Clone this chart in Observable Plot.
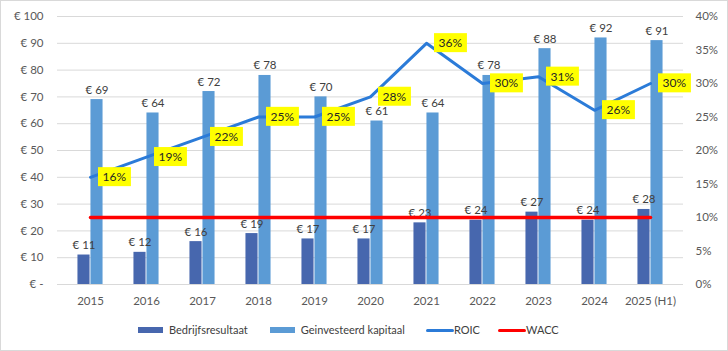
<!DOCTYPE html>
<html>
<head>
<meta charset="utf-8">
<script src="https://cdn.jsdelivr.net/npm/d3@7"></script>
<script src="https://cdn.jsdelivr.net/npm/@observablehq/plot@0.6"></script>
<style>
  html, body { margin: 0; padding: 0; background: #fff; }
  #wrap { position: relative; width: 728px; height: 351px; box-sizing: border-box; border: 1px solid #d9d9d9; background: #fff; font-family: Lato, "Open Sans", sans-serif; }
  #legend { position: absolute; top: 321px; left: 137px; height: 16px; line-height: 16px; display: flex; align-items: center; font-size: 11px; color: #404040; white-space: nowrap; }
  .item { display: flex; align-items: center; }
  .sw { display: inline-block; }
</style>
</head>
<body>
<div id="wrap"><div id="chart"></div><div id="legend"></div></div>
<script>
// ---- data ----
const years = ["2015","2016","2017","2018","2019","2020","2021","2022","2023","2024","2025 (H1)"];
const bedrijfsresultaat = [11, 12, 16, 19, 17, 17, 23, 24, 27, 24, 28];
const geinvesteerdKapitaal = [69, 64, 72, 78, 70, 61, 64, 78, 88, 92, 91];
const roic = [16, 19, 22, 25, 25, 28, 36, 30, 31, 26, 30];
const wacc = [10, 10, 10, 10, 10, 10, 10, 10, 10, 10, 10];
const euroTicks = [0, 10, 20, 30, 40, 50, 60, 70, 80, 90, 100];
const pctTicks = [0, 5, 10, 15, 20, 25, 30, 35, 40];
const seriesNames = ["Bedrijfsresultaat", "Geinvesteerd kapitaal", "ROIC", "WACC"];
const colors = { op: "#4767AE", cap: "#5B9BD5", roic: "#2B7BD8", wacc: "#FF0000" };

const rows = years.map((y, i) => ({ year: y, op: bedrijfsresultaat[i], cap: geinvesteerdKapitaal[i], roic: roic[i], wacc: wacc[i] }));
const pctMax = 40, euroMax = 100;
const p2e = euroMax / pctMax;

const W = 726, H = 316, mL = 56, mR = 44, mT = 15, mB = 33;
const bw = (W - mL - mR) / years.length;
const barW = 13;
const font = "Lato, 'Open Sans', sans-serif";

const chart = Plot.plot({
  width: W, height: H,
  marginTop: mT, marginBottom: mB, marginLeft: mL, marginRight: mR,
  style: { fontFamily: font, fontSize: "11.5px", color: "#595959", background: "white", overflow: "visible" },
  x: { type: "band", domain: years, padding: 0, axis: null },
  y: { domain: [0, euroMax], axis: null },
  marks: [
    Plot.ruleY(euroTicks, { stroke: "#d9d9d9", strokeWidth: 1 }),
    Plot.axisX({ tickSize: 0, tickPadding: 12, label: null, fill: "#595959", fontSize: 11.5 }),
    Plot.axisY(euroTicks, { anchor: "left", tickSize: 0, tickPadding: 14, label: null, fill: "#595959", fontSize: 11.5,
      tickFormat: d => d === 0 ? "€ -" : "€ " + d }),
    Plot.axisY(pctTicks.map(p => p * p2e), { anchor: "right", tickSize: 0, tickPadding: 12, label: null, fill: "#595959", fontSize: 11.5,
      tickFormat: d => Math.round(d / p2e) + "%" }),
    Plot.barY(rows, { x: "year", y: "op", fill: colors.op, insetLeft: bw / 2 - barW, insetRight: bw / 2 }),
    Plot.barY(rows, { x: "year", y: "cap", fill: colors.cap, insetLeft: bw / 2, insetRight: bw / 2 - barW }),
    Plot.text(rows, { x: "year", y: "op", text: d => "€ " + d.op, dx: -barW / 2, dy: -6, lineAnchor: "bottom", fill: "#404040", fontSize: 11.5 }),
    Plot.text(rows, { x: "year", y: "cap", text: d => "€ " + d.cap, dx: barW / 2, dy: -6, lineAnchor: "bottom", fill: "#404040", fontSize: 11.5 }),
    Plot.lineY(rows, { x: "year", y: d => d.wacc * p2e, stroke: colors.wacc, strokeWidth: 3.5 }),
    Plot.lineY(rows, { x: "year", y: d => d.roic * p2e, stroke: colors.roic, strokeWidth: 3 }),
    Plot.text(rows, { x: "year", y: d => d.roic * p2e, text: d => d.roic + "%", textAnchor: "start", dx: 12, fill: "#262626", fontSize: 12 })
  ]
});
document.getElementById("chart").appendChild(chart);

// yellow label boxes behind ROIC labels (last text mark)
const textGroups = chart.querySelectorAll('g[aria-label="text"]');
const g = textGroups[textGroups.length - 1];
if (g) {
  Array.from(g.querySelectorAll("text")).forEach(t => {
    const b = t.getBBox();
    const r = document.createElementNS("http://www.w3.org/2000/svg", "rect");
    const w = b.width + 9, h = 19;
    r.setAttribute("x", b.x + b.width / 2 - w / 2);
    r.setAttribute("y", b.y + b.height / 2 - h / 2);
    r.setAttribute("width", w);
    r.setAttribute("height", h);
    r.setAttribute("fill", "#FFFF00");
    const tr = t.getAttribute("transform");
    if (tr) r.setAttribute("transform", tr);
    g.insertBefore(r, t);
  });
}

// legend
const legend = document.getElementById("legend");
const legendDefs = [
  { name: seriesNames[0], kind: "bar", color: colors.op, gapAfter: 22 },
  { name: seriesNames[1], kind: "bar", color: colors.cap, gapAfter: 21 },
  { name: seriesNames[2], kind: "line", color: colors.roic, gapAfter: 18 },
  { name: seriesNames[3], kind: "line", color: colors.wacc, gapAfter: 0 }
];
legendDefs.forEach(d => {
  const it = document.createElement("span");
  it.className = "item";
  it.style.marginRight = d.gapAfter + "px";
  const sw = document.createElement("span");
  sw.className = "sw";
  if (d.kind === "bar") {
    sw.style.cssText = `width:25px;height:6px;background:${d.color};margin-right:6px;`;
  } else {
    sw.style.cssText = `width:28px;height:3px;border-radius:2px;background:${d.color};margin-right:0px;`;
  }
  const tx = document.createElement("span");
  tx.textContent = d.name;
  it.appendChild(sw); it.appendChild(tx);
  legend.appendChild(it);
});
</script>
</body>
</html>
